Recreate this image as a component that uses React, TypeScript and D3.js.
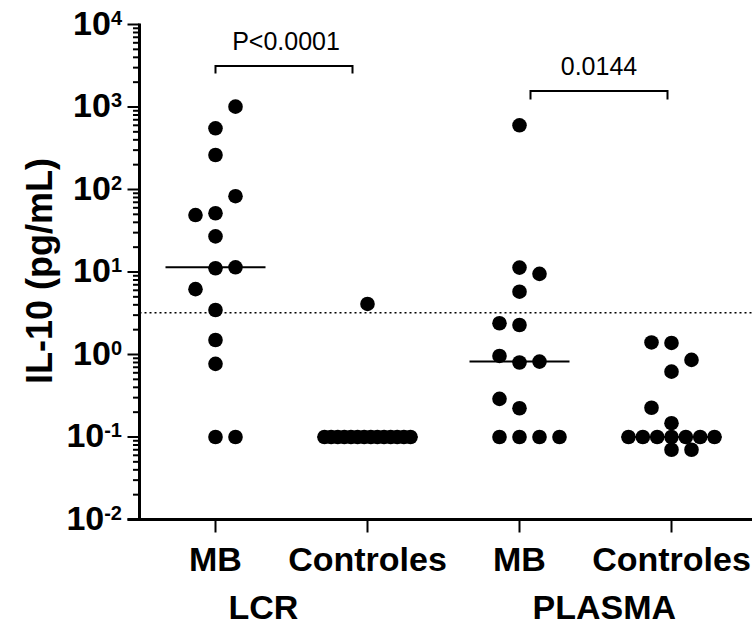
import React, { useEffect, useRef } from "react";
import * as d3 from "d3";

// IL-10 (pg/mL), values in entry order for each column
const groups = ["LCR MB", "LCR Controles", "PLASMA MB", "PLASMA Controles"];
const tickLabels = ["MB", "Controles", "MB", "Controles"];
const panelLabels = ["LCR", "PLASMA"];

const lcrMB = [552, 262, 51.5, 27, 11.1, 3.46, 1.5, 0.77, 0.1, 1010, 49, 83, 11.4, 6.2, 0.1];
const lcrControles = [4.1, 0.1, 0.1, 0.1, 0.1, 0.1, 0.1, 0.1, 0.1, 0.1, 0.1, 0.1, 0.1, 0.1, 0.1];
const plasmaMB = [600, 11.3, 5.77, 2.28, 0.8, 0.223, 0.1, 9.5, 2.39, 0.82, 0.96, 0.29, 0.1, 0.1, 0.1];
const plasmaControles = [1.38, 0.62, 0.147, 0.07, 0.86, 1.4, 0.226, 0.07, 0.1, 0.1, 0.1, 0.1, 0.1, 0.1, 0.1];

const yExponents = [-2, -1, 0, 1, 2, 3, 4];
const cutoff = 3.2;
const comparisons = [
	{ from: 0, to: 1, label: "P<0.0001" },
	{ from: 2, to: 3, label: "0.0144" },
];

const FONT = "'Liberation Sans', Arial, sans-serif";

// simple column scatter layout: slot 0 first, then the side with more room
function placeDots(values: number[], yPos: (v: number) => number, minGap: number, crowd: number) {
	const counts = d3.rollup(values, (v) => v.length, (d) => d);
	const placed = new Map<number, number[]>();
	const ranks = new Map<number, number>();
	return values.map((v) => {
		const n = counts.get(v) as number;
		if (n > crowd) {
			const r = ranks.get(v) || 0;
			ranks.set(v, r + 1);
			return { value: v, slot: 0, crowded: true, rank: r, n };
		}
		const py = yPos(v);
		const room = (s: number) => {
			const ys = placed.get(s);
			if (!ys) return Infinity;
			return d3.min(ys, (q) => Math.abs(q - py)) as number;
		};
		let slot = 0;
		if (room(0) < minGap) {
			for (let k = 1; k < 20; k++) {
				const rp = room(k);
				const rm = room(-k);
				if (rp >= minGap || rm >= minGap) {
					slot = rp >= rm ? k : -k;
					break;
				}
			}
		}
		placed.set(slot, [...(placed.get(slot) || []), py]);
		return { value: v, slot, crowded: false, rank: 0, n };
	});
}

const IL10Chart = () => {
	const svgRef = useRef<SVGSVGElement>(null);

	useEffect(() => {
		const width = 752;
		const height = 630;
		const left = 139.5;
		const bottom = 519.5;
		const top = 24.5;

		const svg = d3.select(svgRef.current);
		svg.selectAll("*").remove();
		svg.attr("width", width).attr("height", height);

		const y = d3.scaleLog().domain([0.01, 10000]).range([bottom, top]);
		const x = d3.scalePoint<string>().domain(groups).range([215.5, 671.5]);
		const slotX = d3.scaleLinear().domain([-1, 1]).range([-20, 20]);

		const series = [lcrMB, lcrControles, plasmaMB, plasmaControles];

		// cutoff dotted line
		svg.append("line")
			.attr("x1", left)
			.attr("x2", width)
			.attr("y1", y(cutoff))
			.attr("y2", y(cutoff))
			.attr("stroke", "#000")
			.attr("stroke-width", 1.5)
			.attr("stroke-dasharray", "2,3");

		// medians
		series.forEach((vals, i) => {
			const m = d3.median(vals) as number;
			svg.append("line")
				.attr("x1", (x(groups[i]) as number) - 50)
				.attr("x2", (x(groups[i]) as number) + 50)
				.attr("y1", y(m))
				.attr("y2", y(m))
				.attr("stroke", "#000")
				.attr("stroke-width", 2);
		});

		// dots
		series.forEach((vals, i) => {
			const cx0 = x(groups[i]) as number;
			const dots = placeDots(vals, (v) => y(v), 22.5, 4);
			svg.append("g")
				.selectAll("circle")
				.data(dots)
				.enter()
				.append("circle")
				.attr("cx", (d) =>
					d.crowded ? cx0 + (d.rank - (d.n - 1) / 2) * (86 / (d.n - 1)) : cx0 + slotX(d.slot)
				)
				.attr("cy", (d) => y(d.value))
				.attr("r", 7.3)
				.attr("fill", "#000");
		});

		// y axis
		const yAxis = svg.append("g");
		y.ticks().forEach((t) => {
			const major = Math.abs(Math.log10(t) - Math.round(Math.log10(t))) < 1e-9;
			yAxis.append("line")
				.attr("x1", major ? 127.5 : 133)
				.attr("x2", left)
				.attr("y1", y(t))
				.attr("y2", y(t))
				.attr("stroke", "#000")
				.attr("stroke-width", 2);
		});
		yAxis.append("line")
			.attr("x1", left)
			.attr("x2", left)
			.attr("y1", top - 1)
			.attr("y2", bottom + 1.5)
			.attr("stroke", "#000")
			.attr("stroke-width", 3);

		yExponents.forEach((e) => {
			const t = yAxis.append("text")
				.attr("x", 122)
				.attr("y", y(10 ** e) + 10)
				.attr("text-anchor", "end")
				.style("font-family", FONT)
				.style("font-weight", "700")
				.style("font-size", "34px")
				.style("fill", "#000");
			t.append("tspan").text("10");
			t.append("tspan").attr("dy", -10).style("font-size", "20px").text(String(e));
		});

		svg.append("text")
			.attr("transform", `translate(52,271) rotate(-90)`)
			.attr("text-anchor", "middle")
			.style("font-family", FONT)
			.style("font-weight", "700")
			.style("font-size", "36px")
			.style("fill", "#000")
			.text("IL-10 (pg/mL)");

		// x axis
		svg.append("line")
			.attr("x1", 127.5)
			.attr("x2", width)
			.attr("y1", bottom)
			.attr("y2", bottom)
			.attr("stroke", "#000")
			.attr("stroke-width", 3);

		groups.forEach((g, i) => {
			const gx = x(g) as number;
			svg.append("line")
				.attr("x1", gx)
				.attr("x2", gx)
				.attr("y1", bottom)
				.attr("y2", bottom + 13)
				.attr("stroke", "#000")
				.attr("stroke-width", 2);
			svg.append("text")
				.attr("x", gx)
				.attr("y", 571)
				.attr("text-anchor", "middle")
				.style("font-family", FONT)
				.style("font-weight", "700")
				.style("font-size", "34px")
				.style("fill", "#000")
				.text(tickLabels[i]);
		});

		panelLabels.forEach((p, i) => {
			svg.append("text")
				.attr("x", (x(groups[i * 2]) as number) + 13)
				.attr("y", 619)
				.attr("text-anchor", "start")
				.style("font-family", FONT)
				.style("font-weight", "700")
				.style("font-size", "34px")
				.style("fill", "#000")
				.text(p);
		});

		// significance brackets
		const bracketLayout = [
			{ y: 66, inset: [0, 15], drop: 7.5 },
			{ y: 91, inset: [11, 4], drop: 8.5 },
		];
		comparisons.forEach((c, i) => {
			const b = bracketLayout[i];
			const x1 = (x(groups[c.from]) as number) + b.inset[0];
			const x2 = (x(groups[c.to]) as number) - b.inset[1];
			svg.append("path")
				.attr("d", `M${x1},${b.y + b.drop}V${b.y}H${x2}V${b.y + b.drop}`)
				.attr("fill", "none")
				.attr("stroke", "#000")
				.attr("stroke-width", 2);
			svg.append("text")
				.attr("x", (x1 + x2) / 2 + (i === 0 ? 2 : 0))
				.attr("y", b.y - 16.5)
				.attr("text-anchor", "middle")
				.style("font-family", FONT)
				.style("font-size", "25px")
				.style("fill", "#000")
				.text(c.label);
		});
	}, []);

	return (
		<div style={{ position: "absolute", left: 0, top: 0 }}>
			<svg ref={svgRef} style={{ display: "block" }}></svg>
		</div>
	);
};

export default function App() {
	return <IL10Chart />;
}
